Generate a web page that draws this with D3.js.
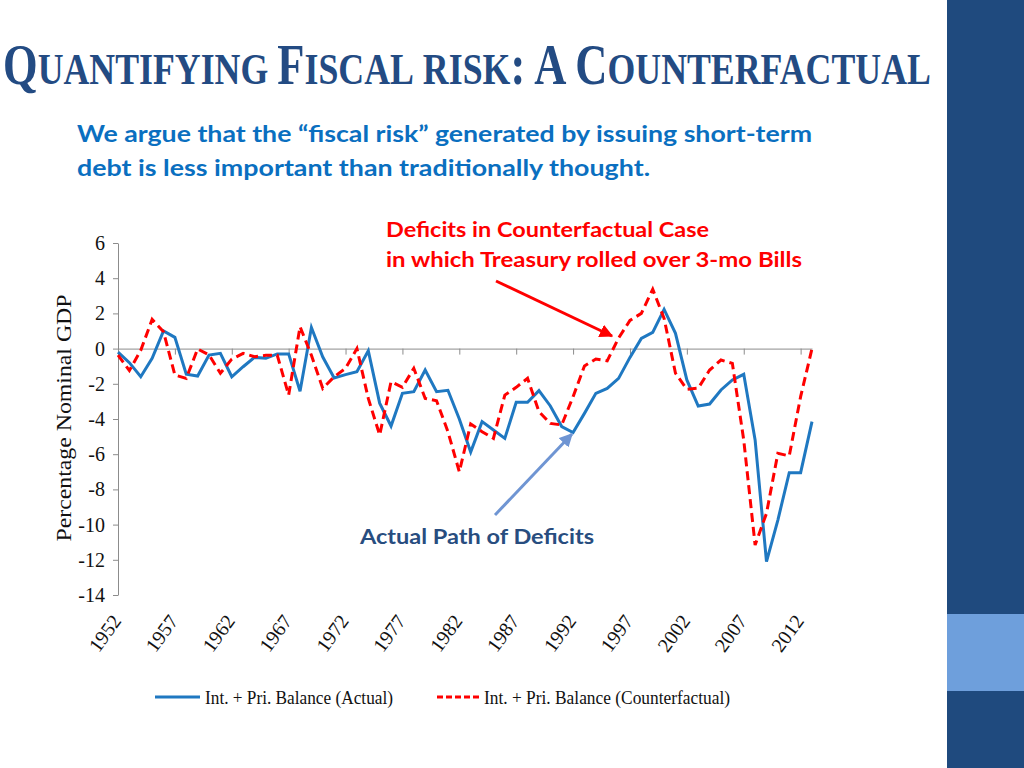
<!DOCTYPE html>
<html>
<head>
<meta charset="utf-8">
<script src="https://cdn.jsdelivr.net/npm/d3@7"></script>
<style>
  html, body { margin: 0; padding: 0; background: #fff; }
  svg { display: block; }
</style>
</head>
<body>
<svg id="chart" width="1024" height="768"></svg>
<script>
// ---- Data ----
const years = [1952,1953,1954,1955,1956,1957,1958,1959,1960,1961,1962,1963,1964,1965,1966,1967,1968,1969,1970,1971,
  1972,1973,1974,1975,1976,1977,1978,1979,1980,1981,1982,1983,1984,1985,1986,1987,1988,1989,1990,1991,
  1992,1993,1994,1995,1996,1997,1998,1999,2000,2001,2002,2003,2004,2005,2006,2007,2008,2009,2010,2011,2012,2013];

const actual = [-0.2,-0.8,-1.6,-0.55,1.0,0.64,-1.45,-1.56,-0.37,-0.27,-1.6,-1.03,-0.5,-0.55,-0.3,-0.3,-2.42,1.2,-0.48,-1.67,
  -1.48,-1.31,-0.12,-3.1,-4.4,-2.54,-2.45,-1.22,-2.45,-2.37,-4.0,-5.88,-4.15,-4.62,-5.1,-3.05,-3.05,-2.39,-3.26,-4.43,
  -4.77,-3.68,-2.54,-2.26,-1.69,-0.5,0.58,0.92,2.23,0.87,-1.78,-3.26,-3.15,-2.35,-1.78,-1.46,-5.19,-12.1,-9.74,-7.05,-7.05,-4.15];

const counterfactual = [-0.37,-1.25,-0.1,1.66,0.96,-1.5,-1.69,-0.02,-0.36,-1.4,-0.6,-0.27,-0.46,-0.38,-0.38,-2.64,1.25,-0.38,-2.26,-1.6,
  -1.12,0.0,-2.83,-4.91,-1.88,-2.2,-1.12,-2.83,-2.96,-4.72,-7.0,-4.28,-4.72,-5.1,-2.64,-2.2,-1.69,-3.58,-4.25,-4.34,
  -2.73,-0.99,-0.59,-0.7,0.6,1.6,2.0,3.37,1.72,-1.4,-2.31,-2.25,-1.22,-0.65,-0.84,-5.2,-11.16,-9.36,-5.95,-6.1,-2.73,0.0];

const yTicks = [6,4,2,0,-2,-4,-6,-8,-10,-12,-14];
const xTickYears = [1952,1957,1962,1967,1972,1977,1982,1987,1992,1997,2002,2007,2012];
const seriesNames = ["Int. + Pri. Balance (Actual)", "Int. + Pri. Balance (Counterfactual)"];

// ---- Drawing ----
const svg = d3.select("#chart");
const blue = "#1f78c1", red = "#ff0000";
const serif = "'Liberation Serif','Times New Roman',serif";
const sans = "Lato,'Open Sans',sans-serif";

// right decorative bar
svg.append("rect").attr("x", 947).attr("y", 0).attr("width", 77).attr("height", 768).attr("fill", "#1f4a7e");
svg.append("rect").attr("x", 947).attr("y", 614).attr("width", 77).attr("height", 77).attr("fill", "#6e9fdc");

// Title (small caps) - separate pieces laid out sequentially, then scaled to fit
const titleG = svg.append("g");
const parts = [["Q",56],["UANTIFYING",45],[" ",45],["F",56],["ISCAL",45],[" ",45],["RISK",45],[":",56],[" ",45],["A",56],[" ",45],["C",56],["OUNTERFACTUAL",45]];
let cx = 0;
parts.forEach(p => {
  const t = titleG.append("text").attr("x", cx).attr("y", 0)
    .attr("font-family", serif).attr("font-weight", "bold").attr("font-size", p[1]).attr("fill", "#234b83")
    .attr("xml:space", "preserve").style("white-space", "pre").text(p[0]);
  const w = p[0] === " " ? p[1] * 0.25 : t.node().getComputedTextLength();
  if (p[0] === " ") t.remove();
  cx += w;
});
const sx = 928 / cx;
titleG.attr("transform", `translate(3,84) scale(${sx},1)`);

// Subtitle
const sub = [["We argue that the \u201Cfiscal risk\u201D generated by issuing short-term", 142, 735],
             ["debt is less important than traditionally thought.", 176, 573]];
sub.forEach(s => svg.append("text").attr("x", 77).attr("y", s[1])
  .attr("font-family", sans).attr("font-weight", "bold").attr("font-size", 22).attr("fill", "#0a6fc0")
  .attr("textLength", s[2]).attr("lengthAdjust", "spacingAndGlyphs").text(s[0]));

// Scales
const x = d3.scalePoint().domain(years).range([118, 812]);
const y = d3.scaleLinear().domain([-14, 6]).range([595, 243]);

// Y axis
const yAxis = svg.append("g").attr("transform", "translate(118,0)")
  .call(d3.axisLeft(y).tickValues(yTicks).tickSize(5).tickSizeOuter(0).tickFormat(d => String(d)));
yAxis.select(".domain").attr("stroke", "#8c8c8c");
yAxis.selectAll(".tick line").attr("stroke", "#8c8c8c");
yAxis.selectAll("text").attr("font-family", serif).attr("font-size", 20).attr("fill", "#111").attr("x", -13);

// Zero-line category axis
const xAxis = svg.append("g").attr("transform", `translate(0,${y(0)})`)
  .call(d3.axisBottom(x).tickValues(xTickYears).tickSize(6).tickSizeOuter(0).tickFormat(""));
xAxis.select(".domain").attr("stroke", "#8c8c8c");
xAxis.selectAll(".tick line").attr("stroke", "#8c8c8c");

// X labels (rotated)
const xLab = svg.append("g").attr("transform", "translate(0,614)")
  .call(d3.axisBottom(x).tickValues(xTickYears).tickSize(0).tickFormat(d => String(d)));
xLab.select(".domain").remove();
xLab.selectAll("text").attr("font-family", serif).attr("font-size", 20).attr("fill", "#111")
  .attr("text-anchor", "end").attr("dy", "0.35em").attr("y", 0)
  .attr("transform", "translate(-2,3) rotate(-54)");

// Y title
svg.append("text").attr("transform", "translate(71,418) rotate(-90)")
  .attr("text-anchor", "middle").attr("font-family", serif).attr("font-size", 21).attr("fill", "#111")
  .attr("textLength", 247).attr("lengthAdjust", "spacingAndGlyphs")
  .text("Percentage Nominal GDP");

// Lines
const line = d3.line().x((d, i) => x(years[i])).y(d => y(d));
svg.append("path").datum(actual).attr("d", line).attr("fill", "none")
  .attr("stroke", blue).attr("stroke-width", 3).attr("stroke-linejoin", "miter");
svg.append("path").datum(counterfactual).attr("d", line).attr("fill", "none")
  .attr("stroke", red).attr("stroke-width", 3).attr("stroke-dasharray", "9,5");

// Arrow markers
const defs = svg.append("defs");
function marker(id, color) {
  defs.append("marker").attr("id", id).attr("viewBox", "0 0 10 10").attr("refX", 9).attr("refY", 5)
    .attr("markerWidth", 4.5).attr("markerHeight", 4.5).attr("orient", "auto")
    .append("path").attr("d", "M0,0 L10,5 L0,10 Z").attr("fill", color);
}
marker("arrRed", red);
marker("arrBlue", "#6f95d3");

// Annotations
svg.append("text").attr("x", 386).attr("y", 237).attr("font-family", sans).attr("font-weight", "bold")
  .attr("font-size", 20).attr("fill", red).attr("textLength", 323).attr("lengthAdjust", "spacingAndGlyphs")
  .text("Deficits in Counterfactual Case");
svg.append("text").attr("x", 386).attr("y", 267).attr("font-family", sans).attr("font-weight", "bold")
  .attr("font-size", 20).attr("fill", red).attr("textLength", 416).attr("lengthAdjust", "spacingAndGlyphs")
  .text("in which Treasury rolled over 3-mo Bills");
svg.append("line").attr("x1", 496).attr("y1", 281).attr("x2", 612).attr("y2", 336)
  .attr("stroke", red).attr("stroke-width", 3).attr("marker-end", "url(#arrRed)");

svg.append("text").attr("x", 360).attr("y", 544).attr("font-family", sans).attr("font-weight", "bold")
  .attr("font-size", 20).attr("fill", "#284d7f").attr("textLength", 234).attr("lengthAdjust", "spacingAndGlyphs")
  .text("Actual Path of Deficits");
svg.append("line").attr("x1", 495).attr("y1", 515).attr("x2", 572).attr("y2", 434)
  .attr("stroke", "#6f95d3").attr("stroke-width", 3).attr("marker-end", "url(#arrBlue)");

// Legend
const leg = svg.append("g");
leg.append("line").attr("x1", 155).attr("x2", 200).attr("y1", 697).attr("y2", 697)
  .attr("stroke", blue).attr("stroke-width", 3);
leg.append("text").attr("x", 205).attr("y", 704).attr("font-family", serif).attr("font-size", 19).attr("fill", "#111")
  .attr("textLength", 188).attr("lengthAdjust", "spacingAndGlyphs").text(seriesNames[0]);
leg.append("line").attr("x1", 437).attr("x2", 481).attr("y1", 697).attr("y2", 697)
  .attr("stroke", red).attr("stroke-width", 3).attr("stroke-dasharray", "6,3");
leg.append("text").attr("x", 484).attr("y", 704).attr("font-family", serif).attr("font-size", 19).attr("fill", "#111")
  .attr("textLength", 246).attr("lengthAdjust", "spacingAndGlyphs").text(seriesNames[1]);
</script>
</body>
</html>
